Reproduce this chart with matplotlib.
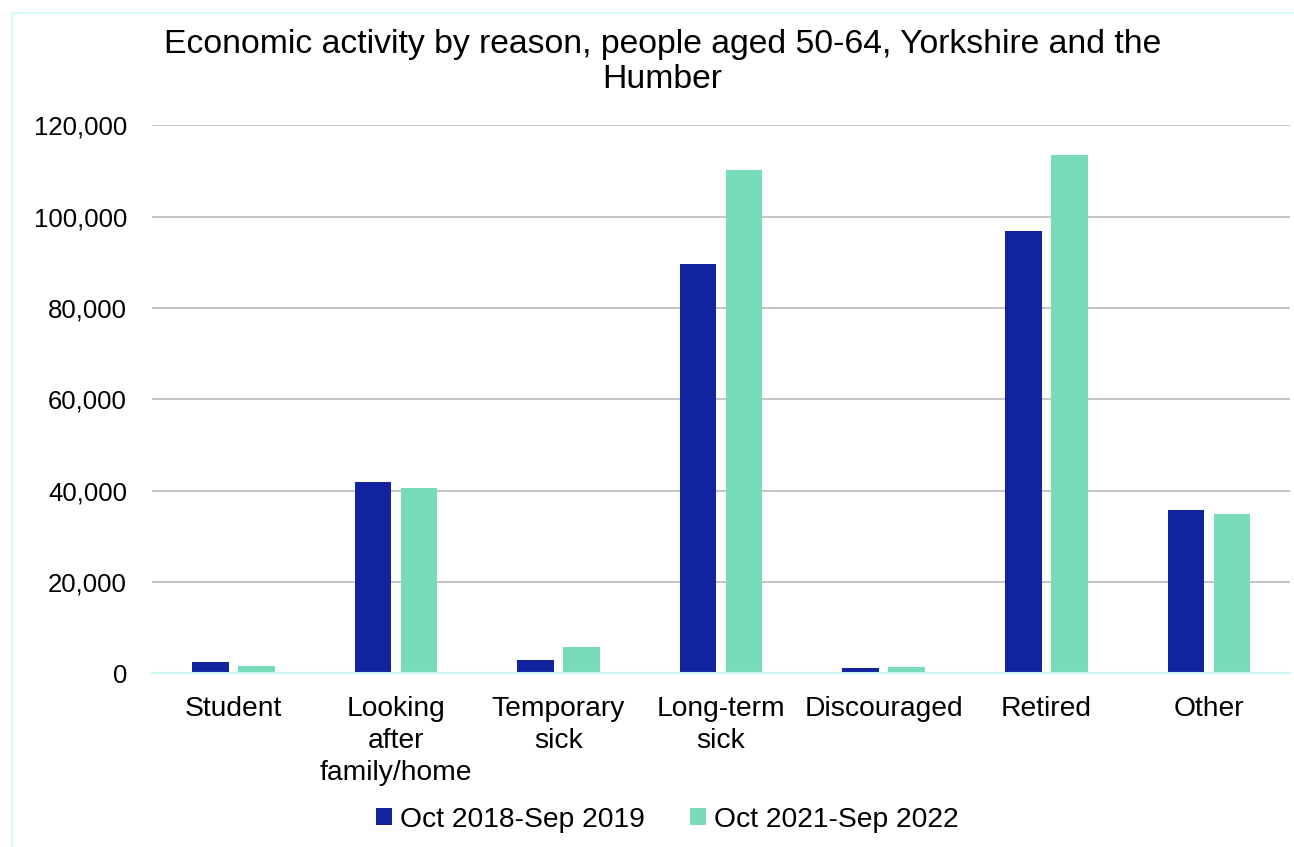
import numpy as np
import matplotlib.pyplot as plt
from matplotlib.patches import Rectangle

plt.rcParams['font.family'] = ['Liberation Sans', 'DejaVu Sans']

# Economic inactivity reasons, people aged 50-64
categories = ['Student', 'Looking\nafter\nfamily/home', 'Temporary\nsick',
              'Long-term\nsick', 'Discouraged', 'Retired', 'Other']
period_2019 = [2500, 42000, 2900, 89600, 1200, 96900, 35800]
period_2022 = [1700, 40500, 5700, 110200, 1300, 113600, 34800]
series_labels = ['Oct 2018-Sep 2019', 'Oct 2021-Sep 2022']

navy = '#11239E'
mint = '#78DBBA'

fig = plt.figure(figsize=(12.94, 8.47), dpi=100)
ax = fig.add_axes([0.1175, 0.205, 0.8795, 0.647])

x = np.arange(len(categories))
w = 0.225
off = 0.1415
ax.bar(x - off, period_2019, w, color=navy, label=series_labels[0], zorder=3)
ax.bar(x + off, period_2022, w, color=mint, label=series_labels[1], zorder=3)

ax.set_xlim(-0.5, len(categories) - 0.5)
ax.set_ylim(0, 120000)
ax.set_yticks(np.arange(0, 120001, 20000))
ax.yaxis.set_major_formatter(plt.FuncFormatter(lambda v, p: f'{int(v):,}'))
ax.set_xticks(x)
ax.set_xticklabels(categories, linespacing=1.3)
ax.tick_params(axis='both', length=0, colors='black')
ax.tick_params(axis='y', labelsize=18.5, pad=18)
ax.tick_params(axis='x', labelsize=20.3, pad=16)

ax.yaxis.grid(True, color='#BFBFBF', linewidth=1.3, zorder=0)
for side in ['top', 'right', 'left']:
    ax.spines[side].set_visible(False)
ax.spines['bottom'].set_color('#CCF7F7')
ax.spines['bottom'].set_linewidth(1.5)
ax.spines['bottom'].set_zorder(4)

fig.text(0.512, 0.9265, 'Economic activity by reason, people aged 50-64, Yorkshire and the\nHumber',
         ha='center', va='center', fontsize=24.3, linespacing=1.18)

leg = fig.legend(loc='center', bbox_to_anchor=(0.516, 0.032), ncol=2, frameon=False,
                 fontsize=20.3, handlelength=0.55, handleheight=0.55, handletextpad=0.3,
                 columnspacing=1.6)

# thin frame around the chart area
fig.patches.append(Rectangle((0.009, -0.01), 1.0, 0.995, transform=fig.transFigure,
                             fill=False, edgecolor='#CCF7F7', linewidth=1.2))

fig.savefig('out.png', dpi=100)
